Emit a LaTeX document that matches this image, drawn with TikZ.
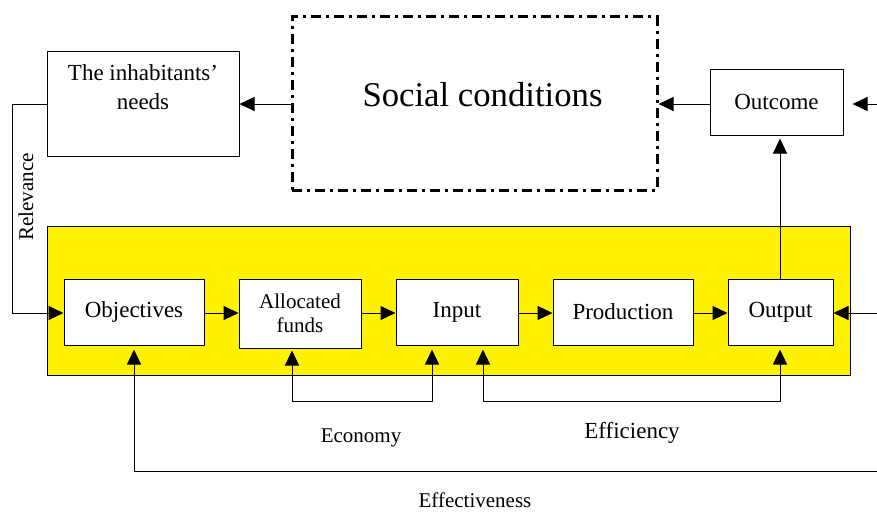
\documentclass[tikz,border=0pt]{standalone}
\usepackage{fontspec}
\setmainfont{Liberation Serif}
\usetikzlibrary{arrows.meta,calc}
\begin{document}
\begin{tikzpicture}[x=1pt,y=-1pt,
  line width=1pt,
  box/.style={draw, fill=white, inner sep=0pt, align=center, font=\fontsize{23}{29}\selectfont},
  smallbox/.style={box, font=\fontsize{21}{24}\selectfont},
  arr/.style={-{Triangle[length=15pt,width=14pt]}},
  biarr/.style={{Triangle[length=15pt,width=14pt]}-{Triangle[length=15pt,width=14pt]}},
  lbl/.style={inner sep=0pt, font=\fontsize{21}{24}\selectfont},
  dashdot/.style={draw, line width=3pt, dash pattern=on 10pt off 5pt on 3pt off 5pt}
]
\useasboundingbox (0,0) rectangle (877,511);
% yellow frame
\node[draw, fill=yellow, minimum width=803pt, minimum height=149pt, inner sep=0pt] (frame) at (448.5,300.5) {};
% top row
\node[box, minimum width=192pt, minimum height=104pt,
  label={[anchor=north, inner sep=0pt, yshift=-13pt, align=center, font=\fontsize{23}{29}\selectfont]north:The inhabitants'\\needs}] (needs) at (143,104) {};
\node[dashdot, minimum width=365pt, minimum height=173pt, inner sep=0pt, font=\fontsize{34.7}{40}\selectfont] (social) at (474.5,103.5) {\hspace*{16pt}\raisebox{18pt}{Social conditions}};
\node[box, minimum width=133pt, minimum height=66pt] (outcome) at (776.5,102) {Outcome};
% process row
\node[box, minimum width=140pt, minimum height=66pt] (obj) at (134,312) {Objectives};
\node[smallbox, minimum width=122pt, minimum height=69pt] (alloc) at (300,313.5) {Allocated\\funds};
\node[box, minimum width=122pt, minimum height=66pt] (input) at (457,312) {Input};
\node[box, minimum width=140pt, minimum height=66pt] (prod) at (623,312) {Production};
\node[box, minimum width=105pt, minimum height=66pt] (output) at (780.5,312) {Output};
% coordinates
\coordinate (rel) at (12,104);
\coordinate (rin1) at (880,104);
\coordinate (rin2) at (880,313);
\coordinate (e1) at (292,401);
\coordinate (e2) at (432,401);
\coordinate (f1) at (483,401);
\coordinate (f2) at (780,401);
\coordinate (g1) at (880,471);
% top arrows
\draw[arr] (social.west |- needs.east) -- (needs.east);
\draw[arr] (outcome.west |- needs.east) -- (social.east |- needs.east);
\draw[arr, shorten >=9pt] (rin1) -- (rin1 -| outcome.east);
\draw[arr, shorten >=3pt] (output.north -| 780,0) -- (outcome.south -| 780,0);
% process arrows
\draw[arr] (obj.east |- 0,313) -- (alloc.west |- 0,313);
\draw[arr] (alloc.east |- 0,313) -- (input.west |- 0,313);
\draw[arr] (input.east |- 0,313) -- (prod.west |- 0,313);
\draw[arr] (prod.east |- 0,313) -- (output.west |- 0,313);
\draw[arr] (rin2) -- (rin2 -| output.east);
% relevance
\draw[arr] (needs.west) -- (rel) -- (rel |- 0,313) -- (obj.west |- 0,313);
\node[lbl, rotate=90] (rellbl) at (26,197) {Relevance};
% economy
\draw[biarr, shorten <=2pt, shorten >=4pt] (alloc.south -| e1) -- (e1) -- (e2) -- (input.south -| e2);
\node[lbl] (eco) at (361,438) {Economy};
% efficiency
\draw[biarr, shorten <=4pt, shorten >=4pt] (input.south -| f1) -- (f1) -- (f2) -- (output.south -| f2);
\node[lbl, font=\fontsize{23}{27}\selectfont] (effi) at (632,433) {Efficiency};
% effectiveness
\draw[arr, shorten >=4pt] (g1) -- (g1 -| obj.south) -- (obj.south);
\node[lbl] (effe) at (475,500) {Effectiveness};
\end{tikzpicture}
\end{document}
